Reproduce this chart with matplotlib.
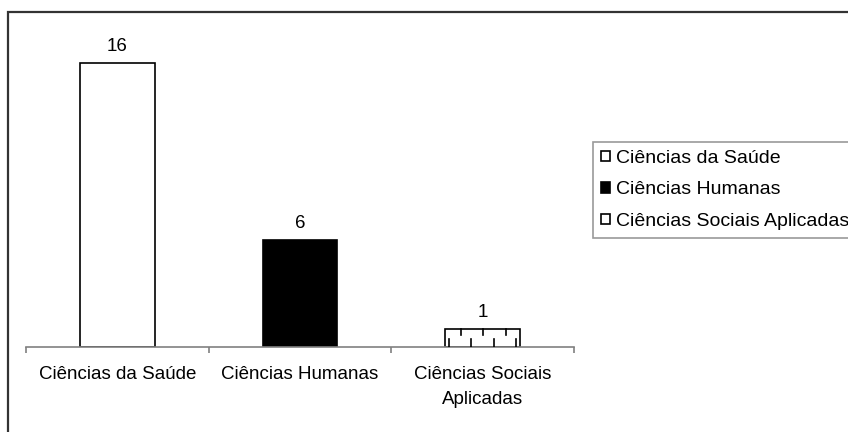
import numpy as np
import matplotlib
matplotlib.use('Agg')
import matplotlib.pyplot as plt
from matplotlib.patches import Rectangle, Patch

plt.rcParams['font.family'] = ['Liberation Sans', 'DejaVu Sans']

# Data
categories = ['Ciências da Saúde', 'Ciências Humanas', 'Ciências Sociais Aplicadas']
tick_labels = ['Ciências da Saúde', 'Ciências Humanas', 'Ciências Sociais\nAplicadas']
values = [16, 6, 1]
face_colors = ['white', 'black', 'white']

FS = 13.5

fig = plt.figure(figsize=(8.48, 4.32), dpi=100)
ax = fig.add_axes([26 / 848, 1 - 347 / 432, 548 / 848, 0.6985])

x = np.arange(len(values))
bars = ax.bar(x, values, width=0.41, color=face_colors, edgecolor='black', linewidth=1.2, zorder=2)

# ruler-like pattern inside the third bar
b = bars[2]
bx, bw, bh = b.get_x(), b.get_width(), b.get_height()
for f in np.arange(0.05, 1.0, 0.3):
    ax.plot([bx + bw * f] * 2, [0, bh * 0.45], color='black', lw=1.2, zorder=3)
for f in np.arange(0.21, 1.0, 0.3):
    ax.plot([bx + bw * f] * 2, [bh, bh * 0.65], color='black', lw=1.2, zorder=3)

# value labels
for xi, v in zip(x, values):
    ax.annotate(str(v), (xi, v), xytext=(0, 6), textcoords='offset points',
                ha='center', va='bottom', fontsize=FS)

ax.set_xlim(-0.5, len(values) - 0.5)
ax.set_ylim(0, 17)
ax.set_yticks([])
for s in ['left', 'right', 'top']:
    ax.spines[s].set_visible(False)
ax.spines['bottom'].set_color('#808080')
ax.spines['bottom'].set_linewidth(1.2)

ax.set_xticks(x)
ax.set_xticklabels(tick_labels, fontsize=FS, linespacing=1.55)
ax.tick_params(axis='x', which='major', length=0, pad=14)
ax.set_xticks(np.arange(-0.5, len(values)), minor=True)
ax.tick_params(axis='x', which='minor', length=4, color='#808080', width=1.2)

# legend
handles = [Patch(facecolor=c, edgecolor='black', linewidth=1.2) for c in face_colors]
leg = fig.legend(handles, categories, loc='center left',
                 bbox_to_anchor=(593 / 848, 1 - 190 / 432), fontsize=14,
                 frameon=True, fancybox=False, borderaxespad=0,
                 handlelength=0.45, handleheight=0.45, handletextpad=0.35,
                 labelspacing=0.75, borderpad=0.4)
leg.get_frame().set_edgecolor('#808080')
leg.get_frame().set_linewidth(1.2)

# outer chart border
fig.add_artist(Rectangle((8 / 848, -0.1), 1.2, 1.1 - 12 / 432, transform=fig.transFigure,
                         fill=False, edgecolor='#333333', linewidth=1.6))

fig.savefig('out.png', dpi=100)
